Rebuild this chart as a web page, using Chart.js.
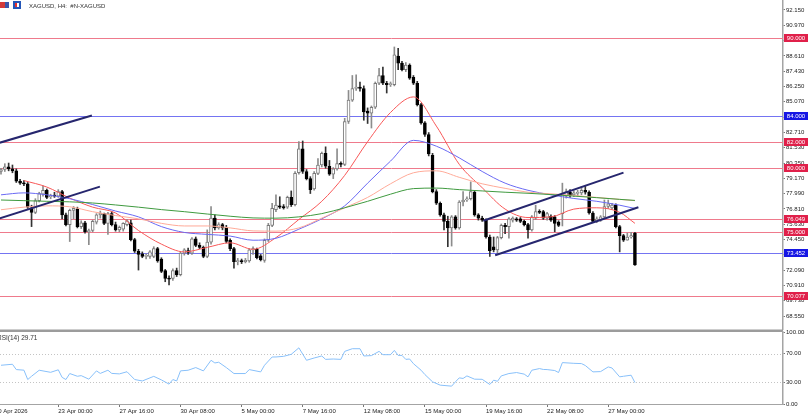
<!DOCTYPE html>
<html>
<head>
<meta charset="utf-8">
<script src="https://cdn.jsdelivr.net/npm/chart.js@4.4.1/dist/chart.umd.min.js"></script>
<style>
html, body { margin: 0; padding: 0; background: #fff; overflow: hidden; }
#wrap { position: relative; width: 809px; height: 415px; }
#price { position: absolute; left: 0; top: 0; }
#rsi { position: absolute; left: 0; top: 318px; }
</style>
</head>
<body>
<div id="wrap">
  <canvas id="price" width="809" height="330"></canvas>
  <canvas id="rsi" width="809" height="97"></canvas>
</div>
<script>
// XAGUSD H4 candles (bar index 0 = 20 Apr 12:00)
const opens = [79.70,79.85,80.05,79.90,79.75,78.95,78.80,78.75,76.90,76.55,77.45,77.95,78.25,77.75,77.85,77.80,78.15,76.35,75.60,76.70,
  76.80,75.45,75.75,75.05,75.15,75.80,76.35,76.45,75.70,76.45,75.60,75.20,75.25,75.60,75.75,74.45,73.55,73.35,73.15,73.15,
  73.15,73.75,72.95,72.05,71.45,71.45,72.05,71.75,73.40,73.60,73.40,74.50,74.00,73.85,73.15,74.25,76.10,75.35,75.60,75.40,
  74.40,73.75,72.75,72.80,72.75,72.80,73.65,73.70,73.20,72.85,74.40,75.55,76.75,77.05,77.00,76.95,77.70,77.15,79.60,81.45,
  79.70,79.15,78.35,79.55,80.20,81.10,80.10,79.50,79.90,80.30,80.25,83.55,85.20,86.10,86.20,86.10,84.35,84.20,84.65,86.50,
  87.10,86.50,86.40,86.40,88.60,88.05,87.55,87.90,86.95,86.50,84.85,83.45,82.55,80.95,78.15,77.25,76.35,75.85,75.35,76.20,
  75.35,77.35,77.50,77.60,78.10,76.35,76.10,75.95,74.65,73.90,73.65,74.60,75.55,75.45,75.95,76.05,76.05,75.85,75.60,75.20,
  76.10,76.60,76.60,76.10,76.25,76.20,75.80,76.45,77.80,78.10,77.90,78.00,78.05,78.25,78.10,76.50,75.85,75.95,76.20,77.00,
  76.90,77.10,75.45,74.75,74.40,74.65,74.95];
const highs = [79.95,80.30,80.35,80.20,79.90,79.10,79.00,78.85,77.10,77.60,78.10,78.60,78.35,77.95,78.10,78.30,78.25,76.50,76.80,77.00,
  76.95,75.90,75.85,75.25,75.95,76.45,76.65,76.50,76.55,76.60,75.80,75.50,75.75,76.00,75.95,74.55,73.70,73.50,73.35,73.60,
  73.90,73.85,73.05,72.15,71.65,72.20,72.25,73.50,73.75,73.80,74.60,74.65,74.20,73.95,75.20,77.00,76.35,75.75,75.70,75.55,
  74.50,73.85,73.00,72.95,73.00,73.75,73.90,73.80,73.30,74.50,75.70,77.25,77.90,77.75,77.15,77.80,78.20,79.70,82.00,82.05,
  79.85,79.30,79.70,80.70,81.20,81.60,80.55,80.00,81.45,80.45,83.80,85.95,87.10,87.15,86.60,86.30,84.60,84.75,86.60,87.65,
  87.75,86.65,86.60,89.30,89.20,88.20,88.10,88.00,87.10,86.65,84.95,83.55,82.70,81.10,78.30,77.35,76.50,76.25,76.30,76.30,
  77.45,78.15,77.75,78.90,78.20,76.45,76.25,76.05,74.80,74.65,74.70,75.65,75.70,76.15,76.20,76.15,76.15,75.95,75.70,76.30,
  77.10,76.75,76.70,76.55,76.35,76.30,75.90,78.80,78.35,78.30,78.20,78.25,78.55,78.55,78.20,76.60,76.20,76.30,77.50,77.50,
  77.25,77.20,75.55,74.85,74.95,75.00,75.00];
const lows = [79.50,79.70,79.75,79.60,78.85,78.70,78.60,76.85,75.45,76.45,77.35,77.80,77.60,77.60,77.70,77.70,76.05,75.50,74.30,76.05,
  75.35,75.30,74.95,74.05,75.05,75.65,76.10,75.60,74.85,75.50,75.10,75.05,75.10,75.50,74.35,73.45,72.10,73.05,72.95,73.00,
  73.05,72.70,71.90,71.20,70.95,71.30,71.60,71.65,73.25,73.30,73.30,73.90,73.75,73.05,73.05,74.10,75.20,75.25,75.20,74.20,
  73.60,72.25,72.50,72.60,72.65,72.70,73.30,72.95,72.80,72.70,74.30,75.45,76.60,76.85,76.80,76.85,77.00,77.05,79.50,79.55,
  79.05,78.00,78.25,79.45,80.05,79.95,79.40,79.15,79.80,80.05,80.15,83.40,85.10,85.95,85.90,83.65,83.40,83.05,84.55,86.40,
  86.40,85.75,86.25,86.30,87.55,87.45,87.40,86.80,86.40,84.75,83.35,82.40,80.90,78.05,77.15,76.25,75.20,73.90,73.95,75.25,
  75.25,77.05,77.40,77.50,76.25,75.95,75.85,74.55,73.15,73.50,73.40,74.50,74.90,74.55,75.80,75.85,75.75,75.50,74.55,75.10,
  76.00,76.45,76.00,75.95,75.85,75.05,75.45,75.50,77.65,77.70,77.75,77.80,77.90,77.95,76.40,75.75,75.75,75.85,76.10,76.85,
  76.80,75.35,73.50,74.30,74.40,74.55,72.45];
const closes = [79.85,80.05,79.90,79.75,78.95,78.80,78.75,76.95,76.55,77.45,78.00,78.25,77.70,77.85,77.80,78.15,76.35,75.60,76.70,76.85,
  75.45,75.75,75.05,75.15,75.85,76.35,76.50,75.70,76.45,75.60,75.20,75.40,75.70,75.90,74.45,73.55,73.30,73.15,73.20,73.50,
  73.75,72.80,72.00,71.45,71.40,72.05,71.75,73.40,73.65,73.45,74.50,74.00,73.85,73.15,74.25,76.10,75.35,75.60,75.35,74.30,
  73.75,72.75,72.80,72.75,72.85,73.65,73.75,73.05,72.90,74.40,75.55,76.85,77.10,76.95,76.90,77.70,77.15,79.55,81.45,79.70,
  79.15,78.30,79.55,80.20,81.10,80.10,79.50,79.90,80.30,80.25,83.55,85.20,86.10,86.20,86.10,84.30,84.20,84.65,86.50,87.10,
  86.50,86.40,86.45,88.70,88.05,87.55,87.90,86.90,86.50,84.85,83.45,82.55,81.05,78.15,77.25,76.35,75.85,75.35,76.20,75.35,
  77.35,77.50,77.60,78.15,76.35,76.10,75.95,74.65,73.60,73.65,74.60,75.55,75.45,76.05,76.10,75.95,75.85,75.60,75.20,76.20,
  76.60,76.55,76.10,76.45,75.95,75.70,75.55,78.00,78.15,77.85,78.05,78.10,78.25,78.10,76.50,75.85,76.05,76.20,77.00,77.20,
  77.10,75.45,74.75,74.40,74.65,74.75,72.50];

// moving averages, read every 6 bars
const maBars = [0,6,12,18,24,30,36,42,48,54,60,66,72,78,84,90,96,102,108,114,120,126,132,138,144,150,156,162,166];
const maRed = [null,79.00,78.50,77.65,76.95,76.50,75.15,74.10,73.50,73.85,74.20,73.70,74.60,76.00,77.40,79.40,82.00,84.25,85.45,83.20,
  80.25,78.45,76.80,76.15,76.20,76.80,76.90,76.55,75.70];
const maBlue = [77.90,78.05,77.90,77.60,77.15,76.65,76.20,75.45,75.00,74.85,74.72,74.40,74.55,75.25,76.05,77.05,78.80,80.50,82.10,81.65,
  80.75,79.70,78.80,78.25,77.90,77.62,77.40,77.10,76.85];
const maSalmon = [76.75,76.95,77.05,76.98,76.60,76.30,76.05,75.70,75.50,75.50,75.35,75.12,75.10,75.35,76.10,76.90,77.70,78.75,79.60,79.75,
  79.25,78.75,78.40,78.10,77.98,77.85,77.70,77.55,77.45];
const maGreen = [77.50,77.45,77.40,77.36,77.27,77.12,76.95,76.76,76.60,76.42,76.25,76.12,76.10,76.20,76.45,76.90,77.40,77.95,78.38,78.42,
  78.30,78.20,78.10,78.02,77.92,77.80,77.68,77.55,77.47];

// RSI(14)
const rsiBars = [0,3,4,6,7,8,10,13,15,16,17,18,20,21,23,25,26,28,29,31,33,35,37,40,42,44,45,46,47,49,51,53,55,56,57,59,61,64,65,68,
  69,71,72,74,76,78,80,82,84,85,87,89,90,92,94,95,97,99,100,102,103,104,105,106,107,108,110,111,113,115,118,119,120,121,122,124,126,128,129,130,
  131,133,135,137,138,139,141,142,143,145,146,147,150,152,153,155,157,159,160,162,163,165,166];
const rsiValues = [53.8,55.2,47.8,47.0,34.0,38.5,46.9,44.0,47.5,37.0,34.0,42.3,38.5,39.4,34.5,46.0,42.5,46.9,42.5,41.8,44.8,34.0,32.0,38.4,33.5,27.6,34.0,32.0,46.0,46.9,
  50.6,46.0,60.7,57.0,58.0,50.6,42.3,42.3,47.8,44.6,53.8,65.3,65.3,66.2,69.0,78.0,60.7,63.9,66.7,62.0,62.5,62.0,73.1,76.8,76.8,66.7,67.2,73.1,68.5,68.5,
  74.5,67.5,67.5,62.0,62.5,56.0,46.9,40.9,30.8,26.2,24.8,30.8,36.3,35.5,39.0,34.5,34.3,27.1,33.1,31.5,39.0,42.3,43.7,41.5,37.7,46.9,49.2,48.0,47.8,46.5,
  43.7,57.5,56.5,56.1,53.5,44.6,45.0,51.5,50.0,37.7,38.5,40.0,29.71];
const rsiLevels = [30, 70];
const rsiTicks = [0, 30, 70, 100];

// horizontal levels
const levelValues = [90.000, 84.000, 82.000, 80.000, 76.049, 75.000, 73.452, 70.077];
const levelKinds = ['r', 'b', 'r', 'r', 'r', 'r', 'b', 'r'];

// trend lines [bar1, price1, bar2, price2]
const trendLines = [
  [-0.3, 81.92, 23.8, 84.02],
  [-0.3, 76.09, 25.9, 78.53],
  [126.3, 75.90, 163.0, 79.61],
  [129.4, 73.24, 166.9, 76.94]
];

const priceTicks = [68.55,69.73,70.91,72.09,73.27,74.45,75.63,76.81,77.99,79.17,80.35,81.53,82.71,83.89,85.07,86.25,87.43,88.61,89.79,90.97,92.15];
const timeTickBars = [-1.6, 15, 31, 47, 63, 79, 95, 111, 127, 143, 159];
const timeTickLabels = ['20 Apr 2026', '23 Apr 00:00', '27 Apr 16:00', '30 Apr 08:00', '5 May 00:00', '7 May 16:00',
  '12 May 08:00', '15 May 00:00', '19 May 16:00', '22 May 08:00', '27 May 00:00'];

const X_MIN = -0.262, X_MAX = 204.77;
const FONT = '"Liberation Sans", Arial, sans-serif';
const AXIS = '#a4a4a4';

const isUp = opens.map((o, i) => closes[i] >= o);

function maSet(values, color) {
  return {
    type: 'line',
    data: maBars.map((b, k) => ({ x: b, y: values[k] })),
    borderColor: color,
    borderWidth: 1,
    pointRadius: 0,
    cubicInterpolationMode: 'monotone',
    spanGaps: true,
    order: 1
  };
}

const levelPlugin = {
  id: 'levels',
  beforeDatasetsDraw(chart) {
    const { ctx, chartArea } = chart;
    const y = chart.scales.y;
    ctx.save();
    ctx.lineWidth = 1;
    levelValues.forEach((v, i) => {
      const py = Math.round(y.getPixelForValue(v)) + 0.5;
      ctx.strokeStyle = levelKinds[i] === 'r' ? '#ef7a8c' : '#7474f2';
      ctx.beginPath();
      ctx.moveTo(chartArea.left, py);
      ctx.lineTo(chartArea.right, py);
      ctx.stroke();
    });
    ctx.restore();
  },
  afterDraw(chart) {
    const { ctx, chartArea } = chart;
    const y = chart.scales.y;
    ctx.save();
    ctx.font = '6px ' + FONT;
    ctx.textAlign = 'center';
    ctx.textBaseline = 'middle';
    levelValues.forEach((v, i) => {
      const py = Math.round(y.getPixelForValue(v));
      ctx.fillStyle = levelKinds[i] === 'r' ? '#e0204a' : '#1616e4';
      ctx.fillRect(chartArea.right + 1, py - 4, 24, 8);
      ctx.fillStyle = '#fff';
      ctx.fillText(v.toFixed(3), chartArea.right + 13, py + 0.5);
    });
    // header
    ctx.fillStyle = '#d23a3a';
    ctx.fillRect(0, 2, 5, 6);
    ctx.fillStyle = '#3a55a8';
    ctx.fillRect(5, 2, 4, 6);
    ctx.fillStyle = '#2456b8';
    ctx.fillRect(13, 1, 8, 8);
    ctx.fillStyle = '#e23030';
    ctx.fillRect(15, 3, 2, 4);
    ctx.fillStyle = '#fff';
    ctx.fillRect(17, 3, 2, 4);
    ctx.fillStyle = '#333';
    ctx.textAlign = 'left';
    ctx.fillText('XAGUSD, H4:  #N-XAGUSD', 29, 6);
    ctx.restore();
  }
};

new Chart(document.getElementById('price'), {
  type: 'bar',
  data: {
    datasets: [
      {
        type: 'bar',
        data: opens.map((o, i) => ({ x: i, y: [lows[i], highs[i]] })),
        backgroundColor: isUp.map(u => u ? '#8c8c8c' : '#333'),
        barThickness: 1,
        grouped: false,
        order: 3
      },
      {
        type: 'bar',
        data: opens.map((o, i) => ({ x: i, y: [o, closes[i]] })),
        backgroundColor: isUp.map(u => u ? '#fff' : '#000'),
        borderColor: isUp.map(u => u ? '#7a7a7a' : '#000'),
        borderWidth: 1,
        borderSkipped: false,
        barThickness: 3,
        minBarLength: 1,
        grouped: false,
        order: 2
      },
      maSet(maGreen, '#3f9a3f'),
      maSet(maSalmon, '#ffaa98'),
      maSet(maBlue, '#6a6af4'),
      maSet(maRed, '#f85858'),
      ...trendLines.map(t => ({
        type: 'line',
        data: [{ x: t[0], y: t[1] }, { x: t[2], y: t[3] }],
        borderColor: '#26266e',
        borderWidth: 2,
        pointRadius: 0,
        order: 0
      }))
    ]
  },
  options: {
    responsive: false,
    animation: false,
    layout: { padding: 0 },
    plugins: { legend: { display: false }, tooltip: { enabled: false } },
    scales: {
      x: { type: 'linear', min: X_MIN, max: X_MAX, offset: false, bounds: 'data', display: false },
      y: {
        type: 'linear',
        position: 'right',
        min: 67.478,
        max: 92.921,
        bounds: 'data',
        afterBuildTicks: s => { s.ticks = priceTicks.map(v => ({ value: v })); },
        afterFit: s => { s.width = 26; s.paddingTop = 0; s.paddingBottom = 0; },
        ticks: {
          autoSkip: false,
          padding: 1,
          color: '#222',
          font: { family: FONT, size: 6 },
          callback: v => v.toFixed(3)
        },
        grid: { drawOnChartArea: false, tickLength: 2, color: '#777' },
        border: { color: AXIS, width: 1.5 }
      }
    }
  },
  plugins: [levelPlugin]
});

const rsiPlugin = {
  id: 'rsiDeco',
  beforeDraw(chart) {
    const { ctx, chartArea } = chart;
    ctx.save();
    ctx.fillStyle = '#9c9c9c';
    ctx.fillRect(0, chartArea.top - 2.5, chartArea.right, 2.5);
    ctx.restore();
  },
  beforeDatasetsDraw(chart) {
    const { ctx, chartArea } = chart;
    const y = chart.scales.y;
    ctx.save();
    ctx.strokeStyle = '#c4c4c4';
    ctx.lineWidth = 1;
    ctx.setLineDash([1, 2]);
    rsiLevels.forEach(v => {
      const py = Math.round(y.getPixelForValue(v)) + 0.5;
      ctx.beginPath();
      ctx.moveTo(chartArea.left, py);
      ctx.lineTo(chartArea.right, py);
      ctx.stroke();
    });
    ctx.restore();
  },
  afterDraw(chart) {
    const { ctx, chartArea } = chart;
    ctx.save();
    ctx.font = '6.5px ' + FONT;
    ctx.fillStyle = '#333';
    ctx.textBaseline = 'middle';
    ctx.fillText('RSI(14) ' + rsiValues[rsiValues.length - 1].toFixed(2), -3, chartArea.top + 6);
    ctx.restore();
  }
};

new Chart(document.getElementById('rsi'), {
  type: 'line',
  data: {
    datasets: [{
      data: rsiBars.map((b, k) => ({ x: b, y: rsiValues[k] })),
      borderColor: '#88c0fa',
      borderWidth: 1,
      pointRadius: 0,
      tension: 0
    }]
  },
  options: {
    responsive: false,
    animation: false,
    layout: { padding: { top: 14 } },
    plugins: { legend: { display: false }, tooltip: { enabled: false } },
    scales: {
      x: {
        type: 'linear',
        min: X_MIN,
        max: X_MAX,
        bounds: 'data',
        afterBuildTicks: s => { s.ticks = timeTickBars.map(v => ({ value: v })); },
        afterFit: s => { s.height = 11; s.paddingLeft = 0; s.paddingRight = 0; },
        ticks: {
          autoSkip: false,
          maxRotation: 0,
          align: 'start',
          padding: 1,
          color: '#222',
          font: { family: FONT, size: 6 },
          callback: (v, i) => timeTickLabels[i]
        },
        grid: { drawOnChartArea: false, tickLength: 3, color: '#777' },
        border: { color: AXIS, width: 1 }
      },
      y: {
        type: 'linear',
        position: 'right',
        min: 0,
        max: 100,
        bounds: 'data',
        afterBuildTicks: s => { s.ticks = rsiTicks.map(v => ({ value: v })); },
        afterFit: s => { s.width = 26; s.paddingTop = 0; s.paddingBottom = 0; },
        ticks: {
          autoSkip: false,
          padding: 1,
          color: '#222',
          font: { family: FONT, size: 6 },
          callback: v => v.toFixed(2)
        },
        grid: { drawOnChartArea: false, tickLength: 2, color: '#777' },
        border: { color: AXIS, width: 1.5 }
      }
    }
  },
  plugins: [rsiPlugin]
});
</script>
</body>
</html>
